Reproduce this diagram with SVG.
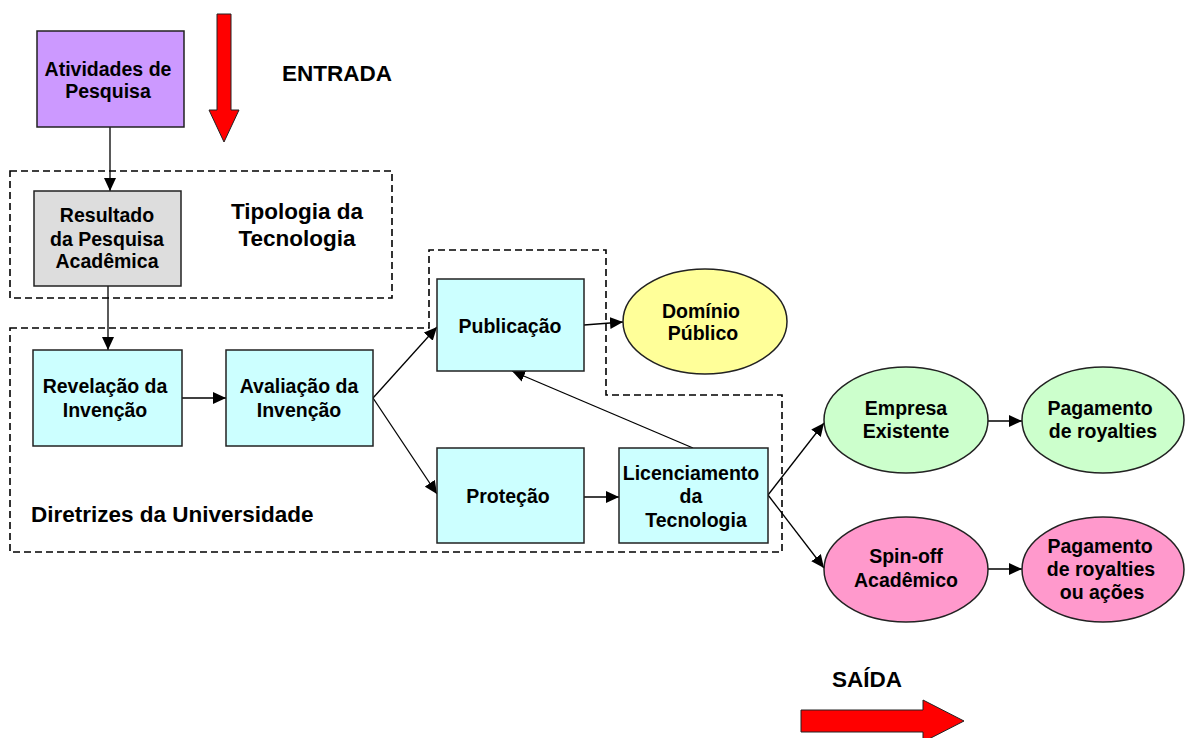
<svg xmlns="http://www.w3.org/2000/svg" width="1185" height="738" viewBox="0 0 1185 738">
  <style>
    .box { stroke: #222; stroke-width: 1.5; }
    .node-text { font-family: "Liberation Sans", Arial, sans-serif; font-weight: bold; font-size: 19.5px; fill: #000; text-anchor: middle; }
    .label { font-family: "Liberation Sans", Arial, sans-serif; font-weight: bold; font-size: 22.5px; fill: #000; }
    .dash { fill: none; stroke: #000; stroke-width: 1.6; stroke-dasharray: 7 4; }
    .conn { fill: none; stroke: #000; stroke-width: 1.3; marker-end: url(#arrow); }
    .cyan { fill: #CCFFFF; }
    .big-arrow { fill: #FF0000; stroke: #222; stroke-width: 1; }
  </style>
  <defs>
    <marker id="arrow" markerUnits="userSpaceOnUse" markerWidth="14" markerHeight="12" refX="13" refY="6" orient="auto">
      <path d="M0,0 L13,6 L0,12 Z" fill="#000"/>
    </marker>
  </defs>
  <rect width="1185" height="738" fill="#fff"/>

  <!-- dashed grouping frames -->
  <g id="frames">
    <rect class="dash" x="10" y="171" width="382" height="127"/>
    <path class="dash" d="M10,328 H429 V250 H606 V395 H782 V552 H10 Z"/>
  </g>

  <!-- input / output arrows and labels -->
  <g id="entrada">
    <path class="big-arrow" d="M217,14 H231 V110 H239 L224,142 L209,110 H217 Z"/>
    <text class="label" x="282" y="81">ENTRADA</text>
  </g>
  <g id="saida">
    <path class="big-arrow" d="M801,710 H923 V700 L964,721 L923,742 V732 H801 Z"/>
    <text class="label" x="832" y="687">SAÍDA</text>
  </g>
  <g id="tipologia-label">
    <text class="label" x="297" y="219" text-anchor="middle">Tipologia da</text>
    <text class="label" x="297" y="246" text-anchor="middle">Tecnologia</text>
  </g>
  <g id="diretrizes-label">
    <text class="label" x="31" y="522">Diretrizes da Universidade</text>
  </g>

  <!-- connectors -->
  <g id="connectors">
    <line class="conn" x1="110" y1="127" x2="110" y2="191"/>
    <line class="conn" x1="108" y1="286" x2="108" y2="350"/>
    <line class="conn" x1="182" y1="398" x2="226" y2="398"/>
    <line class="conn" x1="373" y1="398" x2="437" y2="327"/>
    <line class="conn" x1="373" y1="398" x2="437" y2="494"/>
    <line class="conn" x1="584" y1="325" x2="623" y2="322"/>
    <line class="conn" x1="584" y1="497" x2="619" y2="497"/>
    <line class="conn" x1="693" y1="448" x2="512" y2="371"/>
    <line class="conn" x1="768" y1="495" x2="824" y2="423"/>
    <line class="conn" x1="768" y1="495" x2="824" y2="568"/>
    <line class="conn" x1="988" y1="421" x2="1022" y2="421"/>
    <line class="conn" x1="988" y1="569" x2="1022" y2="569"/>
  </g>

  <!-- nodes -->
  <g id="atividades">
    <rect class="box" x="37" y="31" width="147" height="96" fill="#CC99FF"/>
    <text class="node-text" x="108" y="76">Atividades de</text>
    <text class="node-text" x="108" y="98">Pesquisa</text>
  </g>
  <g id="resultado">
    <rect class="box" x="34" y="191" width="147" height="95" fill="#DDDDDD"/>
    <text class="node-text" x="107" y="222">Resultado</text>
    <text class="node-text" x="107" y="246">da Pesquisa</text>
    <text class="node-text" x="107" y="268">Acadêmica</text>
  </g>
  <g id="revelacao">
    <rect class="box cyan" x="33" y="350" width="149" height="96"/>
    <text class="node-text" x="105" y="393">Revelação da</text>
    <text class="node-text" x="105" y="417">Invenção</text>
  </g>
  <g id="avaliacao">
    <rect class="box cyan" x="226" y="350" width="147" height="96"/>
    <text class="node-text" x="299" y="393">Avaliação da</text>
    <text class="node-text" x="299" y="417">Invenção</text>
  </g>
  <g id="publicacao">
    <rect class="box cyan" x="437" y="279" width="147" height="92"/>
    <text class="node-text" x="510" y="333">Publicação</text>
  </g>
  <g id="dominio">
    <ellipse class="box" cx="705" cy="321.5" rx="82" ry="52.5" fill="#FFFF99"/>
    <text class="node-text" x="701" y="318">Domínio</text>
    <text class="node-text" x="703" y="340">Público</text>
  </g>
  <g id="protecao">
    <rect class="box cyan" x="437" y="448" width="147" height="95"/>
    <text class="node-text" x="508" y="503">Proteção</text>
  </g>
  <g id="licenciamento">
    <rect class="box cyan" x="619" y="448" width="149" height="95"/>
    <text class="node-text" x="691" y="480">Licenciamento</text>
    <text class="node-text" x="691" y="503">da</text>
    <text class="node-text" x="696" y="527">Tecnologia</text>
  </g>
  <g id="empresa">
    <ellipse class="box" cx="906" cy="420" rx="82" ry="53" fill="#CCFFCC"/>
    <text class="node-text" x="906" y="415">Empresa</text>
    <text class="node-text" x="906" y="438">Existente</text>
  </g>
  <g id="royalties">
    <ellipse class="box" cx="1103" cy="420" rx="81" ry="53" fill="#CCFFCC"/>
    <text class="node-text" x="1100" y="415">Pagamento</text>
    <text class="node-text" x="1103" y="438">de royalties</text>
  </g>
  <g id="spinoff">
    <ellipse class="box" cx="906" cy="569.5" rx="82" ry="52.5" fill="#FF99CC"/>
    <text class="node-text" x="906" y="563">Spin-off</text>
    <text class="node-text" x="906" y="587">Acadêmico</text>
  </g>
  <g id="royalties-acoes">
    <ellipse class="box" cx="1103" cy="569.5" rx="81" ry="52.5" fill="#FF99CC"/>
    <text class="node-text" x="1100" y="553">Pagamento</text>
    <text class="node-text" x="1101" y="576">de royalties</text>
    <text class="node-text" x="1102" y="599">ou ações</text>
  </g>
</svg>
